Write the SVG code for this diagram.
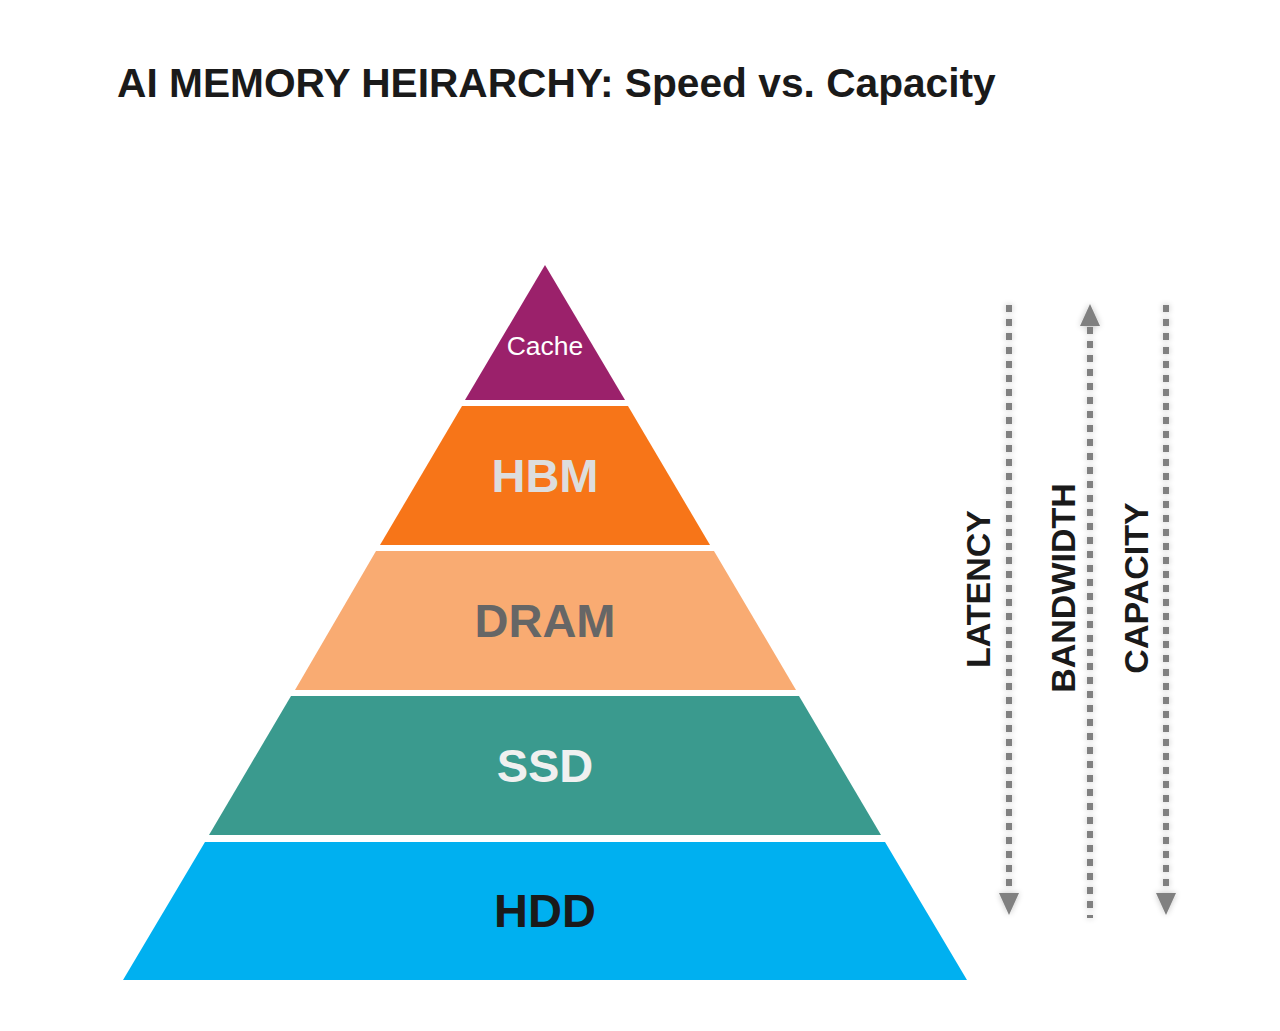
<svg xmlns="http://www.w3.org/2000/svg" width="1280" height="1031" viewBox="0 0 1280 1031">
<defs>
<style>
.t{font-family:"Liberation Sans",Arial,sans-serif;font-weight:bold;text-anchor:middle}
.ln{stroke:#808080;stroke-width:6;stroke-dasharray:7 7;fill:none}
.hd{fill:#808080}
</style>
<filter id="sh" x="-50%" y="-5%" width="200%" height="110%">
<feGaussianBlur in="SourceAlpha" stdDeviation="3"/>
<feComponentTransfer><feFuncA type="linear" slope="0.25"/></feComponentTransfer>
<feMerge><feMergeNode/><feMergeNode in="SourceGraphic"/></feMerge>
</filter>
</defs>
<rect width="1280" height="1031" fill="#fff"/>
<text x="117" y="97" font-family="Liberation Sans,Arial,sans-serif" font-weight="bold" font-size="40.7" fill="#1a1a1a">AI MEMORY HEIRARCHY: Speed vs. Capacity</text>
<g id="cache">
<polygon points="545,265 625,400 465,400" fill="#9B216B"/>
<text x="545" y="355" font-family="Liberation Sans,Arial,sans-serif" font-size="26.5" fill="#fff" text-anchor="middle">Cache</text>
</g>
<g id="hbm">
<polygon points="462,406 628,406 710,545 380,545" fill="#F77518"/>
<text class="t" x="545" y="492" font-size="47" fill="#DDDDDD">HBM</text>
</g>
<g id="dram">
<polygon points="376,551 714,551 796,690 295,690" fill="#F9AB72"/>
<text class="t" x="545" y="637" font-size="47" fill="#666666">DRAM</text>
</g>
<g id="ssd">
<polygon points="291,696 799,696 881,835 209,835" fill="#3A9A8E"/>
<text class="t" x="545" y="782" font-size="47" fill="#F0F0F0">SSD</text>
</g>
<g id="hdd">
<polygon points="205,842 885,842 967,980 123,980" fill="#00B0F0"/>
<text class="t" x="545" y="927" font-size="47" fill="#1a1a1a">HDD</text>
</g>
<g id="connectors" filter="url(#sh)">
<line class="ln" x1="1009" y1="305" x2="1009" y2="895"/>
<polygon class="hd" points="999,893 1019,893 1009,915"/>
<line class="ln" x1="1090" y1="327" x2="1090" y2="918"/>
<polygon class="hd" points="1080,326 1100,326 1090,304"/>
<line class="ln" x1="1166" y1="305" x2="1166" y2="895"/>
<polygon class="hd" points="1156,893 1176,893 1166,915"/>
</g>
<g id="labels">
<text class="t" font-size="34" fill="#1a1a1a" transform="translate(990,589) rotate(-90)">LATENCY</text>
<text class="t" font-size="34" fill="#1a1a1a" transform="translate(1075,588) rotate(-90)">BANDWIDTH</text>
<text class="t" font-size="34" fill="#1a1a1a" transform="translate(1148,588) rotate(-90)">CAPACITY</text>
</g>
</svg>
